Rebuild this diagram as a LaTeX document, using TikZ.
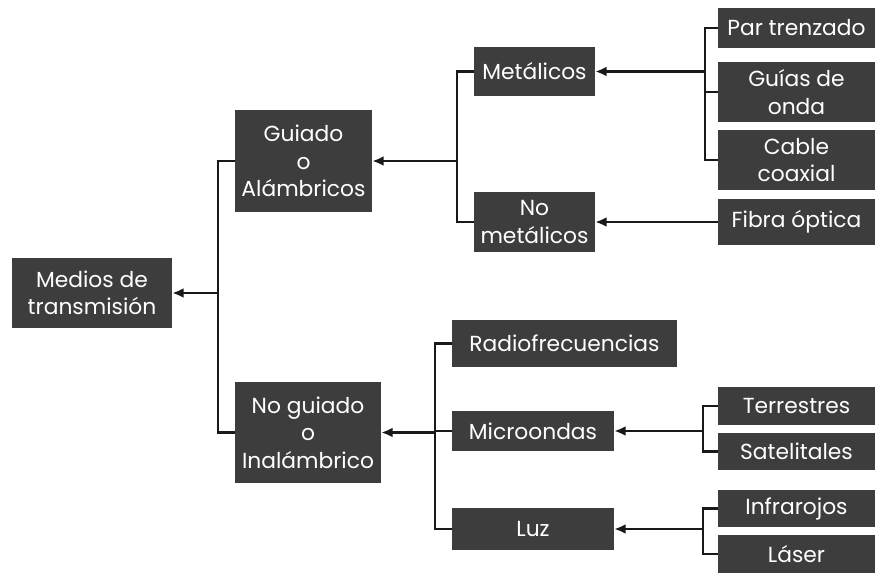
\documentclass[tikz,border=0pt]{standalone}
\usepackage{fontspec}
\setmainfont{Poppins}
\usepackage{tikz}
\usetikzlibrary{arrows.meta}

\begin{document}
\begin{tikzpicture}[
  x=0.025cm, y=-0.025cm,
  >=Latex,
  box/.style={
    fill=black!76,
    text=white,
    align=center,
    inner sep=0pt,
    font=\fontsize{15.5}{19.5}\selectfont
  },
  link/.style={line width=2pt, draw=black!90},
  flow/.style={link, -{Latex[length=8pt,width=7pt]}}
]
\useasboundingbox (0,0) rectangle (875,573);

% root
\node[box, minimum width=4cm, minimum height=1.75cm] (medios) at (92,293)
  {Medios de\\transmisión};

% second level
\node[box, minimum width=3.425cm, minimum height=2.55cm] (guiado) at (303.5,161)
  {Guiado\\o\\Alámbricos};
\node[box, minimum width=3.65cm, minimum height=2.525cm] (noguiado) at (308,432.5)
  {No guiado\\o\\Inalámbrico};

% third level
\node[box, minimum width=3.025cm, minimum height=1.225cm] (metalicos) at (534.5,71.5)
  {Metálicos};
\node[box, minimum width=3.025cm, minimum height=1.5cm] (nometalicos) at (534.5,222)
  {No\\metálicos};
\node[box, minimum width=5.625cm, minimum height=1.175cm] (radio) at (564.5,343.5)
  {Radiofrecuencias};
\node[box, minimum width=4.05cm, minimum height=1cm] (micro) at (533,431)
  {Microondas};
\node[box, minimum width=4.05cm, minimum height=1.05cm] (luz) at (533,529)
  {Luz};

% leaves
\node[box, minimum width=3.925cm, minimum height=1cm] (par) at (796.5,28)
  {Par trenzado};
\node[box, minimum width=3.925cm, minimum height=1.5cm] (guias) at (796.5,92)
  {Guías de\\onda};
\node[box, minimum width=3.925cm, minimum height=1.5cm] (cable) at (796.5,160)
  {Cable\\coaxial};
\node[box, minimum width=3.925cm, minimum height=1.125cm] (fibra) at (796.5,222)
  {Fibra óptica};
\node[box, minimum width=3.925cm, minimum height=0.95cm] (terr) at (796.5,406)
  {Terrestres};
\node[box, minimum width=3.925cm, minimum height=0.925cm] (sat) at (796.5,451.5)
  {Satelitales};
\node[box, minimum width=3.925cm, minimum height=0.925cm] (infra) at (796.5,508.5)
  {Infrarojos};
\node[box, minimum width=3.925cm, minimum height=0.95cm] (laser) at (796.5,554)
  {Láser};

% bus points
\coordinate (b1) at (218,293);
\coordinate (b2) at (457,161);
\coordinate (b3) at (705,71.5);
\coordinate (b4) at (435,432.5);
\coordinate (b5) at (703,431);
\coordinate (b6) at (703,529);

\draw[link] (guiado.west) -| (b1) |- (noguiado.west);
\draw[flow] (b1) -- (medios.east);

\draw[link] (metalicos.west) -| (b2) |- (nometalicos.west);
\draw[flow] (b2) -- (guiado.east);

\draw[link] (par.west) -| (b3) |- (cable.west);
\draw[link] (guias.west) -- (guias.west -| b3);
\draw[flow] (b3) -- (metalicos.east);
\draw[flow] (fibra.west) -- (nometalicos.east);

\draw[link] (radio.west) -| (b4) |- (luz.west);
\draw[link] (micro.west -| b4) -- (micro.west);
\draw[flow] (b4) -- (noguiado.east);

\draw[link] (terr.west) -| (b5) |- (sat.west);
\draw[flow] (b5) -- (micro.east);

\draw[link] (infra.west) -| (b6) |- (laser.west);
\draw[flow] (b6) -- (luz.east);

\end{tikzpicture}
\end{document}
